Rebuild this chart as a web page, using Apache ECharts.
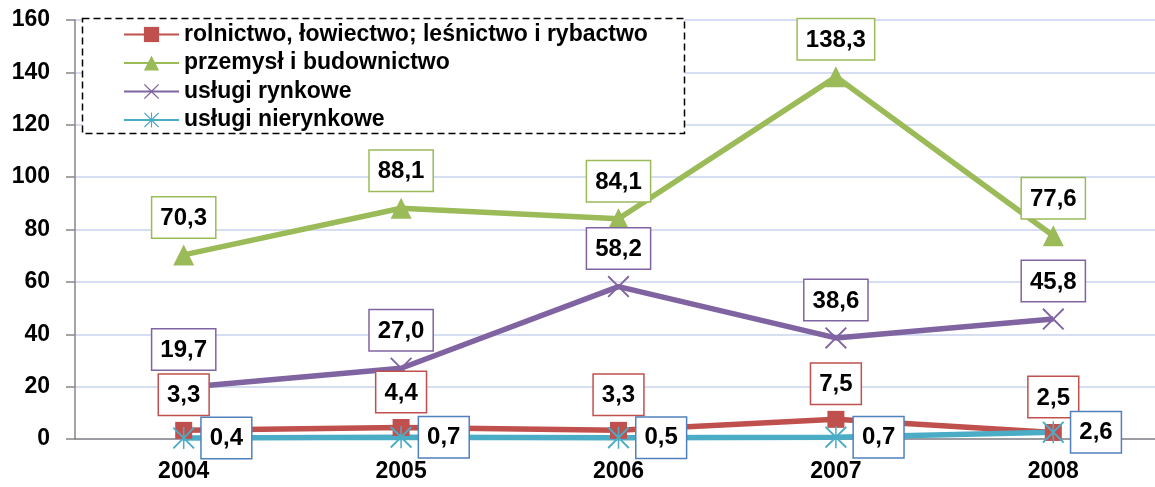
<!DOCTYPE html>
<html>
<head>
<meta charset="utf-8">
<script src="https://cdn.jsdelivr.net/npm/echarts@6/dist/echarts.min.js"></script>
<style>
  html, body { margin: 0; padding: 0; background: #fff; }
  #chart { width: 1155px; height: 487px; }
</style>
</head>
<body>
<div id="chart"></div>
<script>
// dane z wykresu
const years = ["2004", "2005", "2006", "2007", "2008"];
const rolnictwo = [3.3, 4.4, 3.3, 7.5, 2.5];
const przemysl = [70.3, 88.1, 84.1, 138.3, 77.6];
const uslugiRynkowe = [19.7, 27.0, 58.2, 38.6, 45.8];
const uslugiNierynkowe = [0.4, 0.7, 0.5, 0.7, 2.6];
const seriesNames = [
  "rolnictwo, łowiectwo; leśnictwo i rybactwo",
  "przemysł i budownictwo",
  "usługi rynkowe",
  "usługi nierynkowe",
];

const font = '"Liberation Sans", Arial, sans-serif';
const crossPath =
  "path://M0,1.2L1.2,0L10,8.8L18.8,0L20,1.2L11.2,10L20,18.8L18.8,20L10,11.2L1.2,20L0,18.8L8.8,10Z";
const starPath = crossPath + "M9.3,0L10.7,0L10.7,20L9.3,20Z";

// etykiety w ramkach
function boxLabel(border, position) {
  return {
    show: true,
    position: position,
    distance: 7,
    formatter: (p) => p.value.toFixed(1).replace(".", ","),
    fontFamily: font,
    fontWeight: "bold",
    fontSize: 24,
    lineHeight: 24,
    color: "#000",
    backgroundColor: "#fff",
    borderColor: border,
    borderWidth: 1.5,
    padding: [9, 8, 7, 8],
  };
}

const chart = echarts.init(document.getElementById("chart"));
chart.setOption({
  animation: false,
  textStyle: { fontFamily: font },
  grid: { left: 75, top: 20, width: 1087, height: 419, outerBoundsMode: "none" },
  legend: {
    orient: "vertical",
    left: 118,
    top: 18,
    itemWidth: 55,
    itemHeight: 19,
    itemGap: 5.5,
    data: seriesNames,
    textStyle: { fontFamily: font, fontWeight: "bold", fontSize: 23, lineHeight: 23, color: "#000" },
  },
  graphic: [
    {
      type: "rect",
      shape: { x: 82.5, y: 18.5, width: 602, height: 115 },
      style: { fill: "#fff", stroke: "#000", lineWidth: 1.5, lineDash: [7, 4] },
      z: 1,
    },
  ],
  xAxis: {
    type: "category",
    data: years,
    axisLine: { lineStyle: { color: "#868686", width: 1.5 } },
    axisTick: { length: 8, lineStyle: { color: "#868686", width: 1.5 } },
    axisLabel: { fontFamily: font, fontWeight: "bold", fontSize: 23, color: "#000", margin: 21 },
  },
  yAxis: {
    type: "value",
    min: 0,
    max: 160,
    interval: 20,
    axisLine: { show: true, lineStyle: { color: "#868686", width: 1.5 } },
    axisTick: { show: true, length: 9, lineStyle: { color: "#868686", width: 1.5 } },
    axisLabel: { fontFamily: font, fontWeight: "bold", fontSize: 23, color: "#000", margin: 25 },
    splitLine: { lineStyle: { color: "#c7d4ec", width: 1.5 } },
  },
  series: [
    {
      name: seriesNames[0],
      type: "line",
      data: rolnictwo,
      symbol: "rect",
      symbolSize: 17,
      color: "#c0504d",
      lineStyle: { width: 5.5 },
      label: boxLabel("#c0504d", "top"),
      z: 3,
    },
    {
      name: seriesNames[1],
      type: "line",
      data: przemysl,
      symbol: "triangle",
      symbolSize: 21,
      color: "#9bbb59",
      lineStyle: { width: 5.5 },
      label: boxLabel("#9bbb59", "top"),
      z: 3,
    },
    {
      name: seriesNames[2],
      type: "line",
      data: uslugiRynkowe,
      symbol: crossPath,
      symbolSize: 22,
      color: "#8064a2",
      lineStyle: { width: 5.5 },
      label: boxLabel("#8064a2", "top"),
      z: 3,
    },
    {
      name: seriesNames[3],
      type: "line",
      data: uslugiNierynkowe,
      symbol: starPath,
      symbolSize: 22,
      color: "#4bacc6",
      lineStyle: { width: 5.5 },
      label: boxLabel("#4f81bd", "right"),
      z: 3,
    },
  ],
});
</script>
</body>
</html>
